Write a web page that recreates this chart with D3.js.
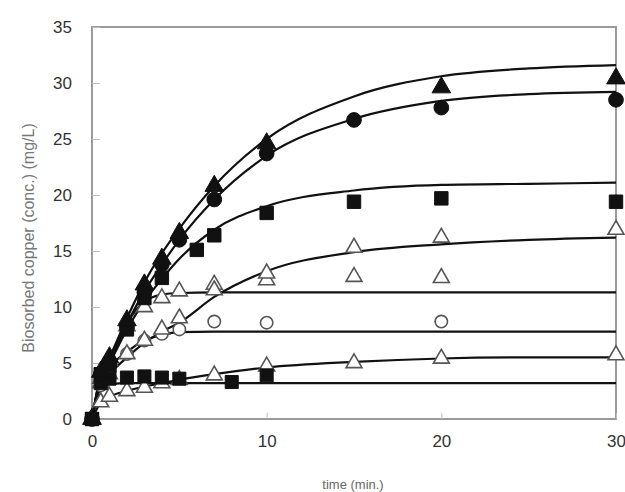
<!DOCTYPE html>
<html><head><meta charset="utf-8">
<script src="https://cdn.jsdelivr.net/npm/d3@7"></script>
<style>body{margin:0;background:#fff}svg{display:block}</style>
</head><body>
<svg id="c" width="625" height="492"></svg>
<script>
// ---- data ----
const xTicks = [0, 10, 20, 30];
const yTicks = [0, 5, 10, 15, 20, 25, 30, 35];

// measured points
const tTriF = [0, 0.5, 1, 2, 3, 4, 5, 7, 10, 20, 30];
const vTriF = [0, 4.2, 5.5, 8.8, 12, 14.3, 16.6, 20.8, 24.6, 29.6, 30.4];
const tCircF = [0, 0.5, 1, 2, 3, 4, 5, 7, 10, 15, 20, 30];
const vCircF = [0, 4, 5, 8.2, 11.3, 13.8, 16, 19.6, 23.7, 26.7, 27.8, 28.5];
const tSqF = [0, 0.5, 1, 2, 3, 4, 6, 7, 10, 15, 20, 30];
const vSqF = [0, 4, 4.8, 8, 10.8, 12.6, 15.1, 16.4, 18.4, 19.4, 19.7, 19.4];
const tTriOHi = [0, 0.5, 1, 2, 3, 4, 5, 7, 10, 15, 20, 30];
const vTriOHi = [0, 3.2, 4, 5.8, 7, 8, 9, 11.5, 13, 15.3, 16.2, 16.9];
const tTriOMid = [0, 0.5, 1, 2, 3, 4, 5, 7, 10, 15, 20];
const vTriOMid = [0, 3.6, 5.2, 8.3, 10, 10.8, 11.4, 12, 12.4, 12.7, 12.6];
const tCircO = [0, 0.5, 1, 2, 3, 4, 5, 7, 10, 20];
const vCircO = [0, 3, 4.2, 5.8, 7, 7.6, 8, 8.7, 8.6, 8.7];
const tTriOLo = [0, 0.5, 1, 2, 3, 4, 5, 7, 10, 15, 20, 30];
const vTriOLo = [0, 1.5, 2, 2.5, 2.8, 3.2, 3.5, 3.9, 4.7, 5, 5.4, 5.7];
const tSqFLo = [0, 0.5, 1, 2, 3, 4, 5, 8, 10];
const vSqFLo = [0, 3.2, 3.6, 3.7, 3.8, 3.7, 3.6, 3.3, 3.9];

// model curves
const tLine = [0, 0.5, 1, 2, 3, 4, 5, 7, 10, 15, 20, 25, 30];
const lineTri = [0, 4, 5.5, 9, 12.2, 14.8, 17, 20.8, 25, 28.8, 30.6, 31.3, 31.6];
const lineCirc = [0, 3.8, 5.2, 8.5, 11.4, 13.8, 16, 19.6, 23.5, 26.8, 28.4, 29, 29.2];
const lineSq = [0, 3.8, 5, 8, 10.5, 12.5, 14.3, 16.9, 19, 20.4, 20.9, 21, 21.1];
const lineTriHi = [0, 3, 4, 5.5, 6.8, 7.8, 8.6, 10.9, 13.2, 14.9, 15.6, 16, 16.2];
const lineTriMid = [0, 3.5, 5, 8.5, 10.5, 11.1, 11.25, 11.3, 11.3, 11.3, 11.3, 11.3, 11.3];
const lineCircO = [0, 3, 4.5, 6, 7, 7.5, 7.75, 7.8, 7.8, 7.8, 7.8, 7.8, 7.8];
const lineTriLo = [0, 1.5, 2, 2.5, 2.9, 3.2, 3.5, 4, 4.6, 5.1, 5.4, 5.5, 5.5];
const lineSqLo = [0, 3, 3.1, 3.2, 3.2, 3.2, 3.2, 3.2, 3.2, 3.2, 3.2, 3.2, 3.2];

// ---- drawing ----
const svg = d3.select('#c');
const x = d3.scaleLinear().domain([0, 30]).range([92, 616]);
const y = d3.scaleLinear().domain([0, 35]).range([419, 27]);
const frame = '#9a9a9a';

// frame
svg.append('rect').attr('x', x(0)).attr('y', y(35)).attr('width', x(30) - x(0)).attr('height', y(0) - y(35))
  .attr('fill', 'none').attr('stroke', frame).attr('stroke-width', 2);

// axes
const yAxis = svg.append('g').attr('transform', `translate(${x(0)},0)`)
  .call(d3.axisLeft(y).tickValues(yTicks).tickSize(-8).tickPadding(20));
const xAxis = svg.append('g').attr('transform', `translate(0,${y(0)})`)
  .call(d3.axisBottom(x).tickValues(xTicks).tickSize(-6).tickPadding(16));
[yAxis, xAxis].forEach(g => {
  g.select('.domain').remove();
  g.selectAll('.tick line').attr('stroke', '#bbb');
  g.selectAll('.tick text').attr('font-family', 'Liberation Sans, Arial, sans-serif')
    .attr('font-size', 17).attr('fill', '#333');
});

// axis titles
svg.append('text').attr('x', 353).attr('y', 489).attr('text-anchor', 'middle')
  .attr('font-family', 'Liberation Sans, Arial, sans-serif').attr('font-size', 13).attr('fill', '#666')
  .text('time (min.)');
svg.append('text').attr('transform', 'translate(34,238) rotate(-90)').attr('text-anchor', 'middle')
  .attr('font-family', 'Liberation Sans, Arial, sans-serif').attr('font-size', 16).attr('fill', '#777')
  .text('Biosorbed copper (conc.) (mg/L)');

// lines
const line = d3.line().x(d => x(d[0])).y(d => y(d[1])).curve(d3.curveMonotoneX);
[lineTri, lineCirc, lineSq, lineTriHi, lineTriMid, lineCircO, lineTriLo, lineSqLo].forEach(vals => {
  svg.append('path').datum(tLine.map((t, i) => [t, vals[i]]))
    .attr('d', line).attr('fill', 'none').attr('stroke', '#111').attr('stroke-width', 2.2);
});

// markers
const series = [
  {t: tTriOLo, v: vTriOLo, type: d3.symbolTriangle, size: 110, fill: '#fff'},
  {t: tCircO, v: vCircO, type: d3.symbolCircle, size: 120, fill: '#fff'},
  {t: tTriOMid, v: vTriOMid, type: d3.symbolTriangle, size: 110, fill: '#fff'},
  {t: tTriOHi, v: vTriOHi, type: d3.symbolTriangle, size: 110, fill: '#fff'},
  {t: tSqFLo, v: vSqFLo, type: d3.symbolSquare, size: 170, fill: '#111'},
  {t: tSqF, v: vSqF, type: d3.symbolSquare, size: 180, fill: '#111'},
  {t: tCircF, v: vCircF, type: d3.symbolCircle, size: 170, fill: '#111'},
  {t: tTriF, v: vTriF, type: d3.symbolTriangle, size: 150, fill: '#111'}
];
series.forEach(s => {
  const sym = d3.symbol().type(s.type).size(s.size);
  svg.append('g').selectAll('path').data(s.t.map((t, i) => [t, s.v[i]])).join('path')
    .attr('transform', d => `translate(${x(d[0])},${y(d[1])})`)
    .attr('d', sym)
    .attr('fill', s.fill)
    .attr('stroke', s.fill === '#fff' ? '#555' : '#111')
    .attr('stroke-width', s.fill === '#fff' ? 1.6 : 1);
});
</script>
</body></html>
